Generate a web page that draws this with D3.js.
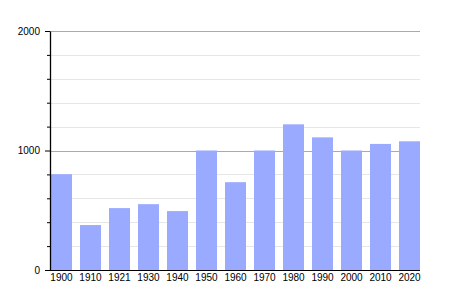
<!DOCTYPE html>
<html>
<head>
<meta charset="utf-8">
<script src="https://cdn.jsdelivr.net/npm/d3@7"></script>
<style>
  body { margin: 0; background: #fff; }
  svg text { font-family: "Liberation Sans", Arial, sans-serif; font-size: 10px; fill: #000; }
</style>
</head>
<body>
<div class="chart"></div>
<script>
// population par année
var years = ["1900", "1910", "1921", "1930", "1940", "1950", "1960", "1970", "1980", "1990", "2000", "2010", "2020"];
var population = [802, 376, 518, 551, 493, 1000, 735, 1000, 1219, 1110, 1000, 1055, 1077];
var majorTicks = [0, 1000, 2000];
var minorTicks = [200, 400, 600, 800, 1200, 1400, 1600, 1800];

var width = 450,
    height = 300;

/* scales */
var x = d3.scaleBand().domain(years).range([51, 420]).paddingInner(0.276).paddingOuter(0);
var y = d3.scaleLinear().domain([0, 2000]).range([270, 31]);

var svg = d3.select(".chart").append("svg")
    .attr("width", width)
    .attr("height", height);

// grid lines
svg.append("g").selectAll("line")
    .data(minorTicks)
    .enter().append("line")
    .attr("x1", 50).attr("x2", 420)
    .attr("y1", function(d) { return Math.round(y(d)) + 0.5; })
    .attr("y2", function(d) { return Math.round(y(d)) + 0.5; })
    .attr("stroke", "#e6e6e6");

svg.append("g").selectAll("line")
    .data(majorTicks.slice(1))
    .enter().append("line")
    .attr("x1", 50).attr("x2", 420)
    .attr("y1", function(d) { return Math.round(y(d)) + 0.5; })
    .attr("y2", function(d) { return Math.round(y(d)) + 0.5; })
    .attr("stroke", "#aaaaaa");

/* bars */
svg.append("g").selectAll("rect")
    .data(population)
    .enter().append("rect")
    .attr("x", function(d, i) { return x(years[i]); })
    .attr("width", x.bandwidth())
    .attr("y", function(d) { return y(d); })
    .attr("height", function(d) { return y(0) - y(d); })
    .attr("fill", "#99aaff");

// Y axis (minor ticks)
svg.append("g")
    .attr("transform", "translate(50,0)")
    .call(d3.axisLeft(y).tickValues(minorTicks).tickSize(3).tickFormat(""))
    .call(function(g) { g.select(".domain").remove(); });

// Y axis (major ticks)
var yAxis = svg.append("g")
    .attr("transform", "translate(50,0)")
    .attr("font-family", "Liberation Sans, Arial, sans-serif")
    .call(d3.axisLeft(y).tickValues(majorTicks).tickSize(5).tickPadding(5).tickSizeOuter(0).tickFormat(d3.format("d")));
yAxis.attr("font-family", "Liberation Sans, Arial, sans-serif").attr("font-size", 10);
yAxis.select(".domain").attr("stroke-width", 1.3);

// X axis
var xAxis = svg.append("g")
    .attr("transform", "translate(0,270)")
    .call(d3.axisBottom(x).tickSize(0).tickPadding(4));
xAxis.attr("font-family", "Liberation Sans, Arial, sans-serif").attr("font-size", 10);
xAxis.select(".domain").attr("d", "M50,0.5H420");
</script>
</body>
</html>
